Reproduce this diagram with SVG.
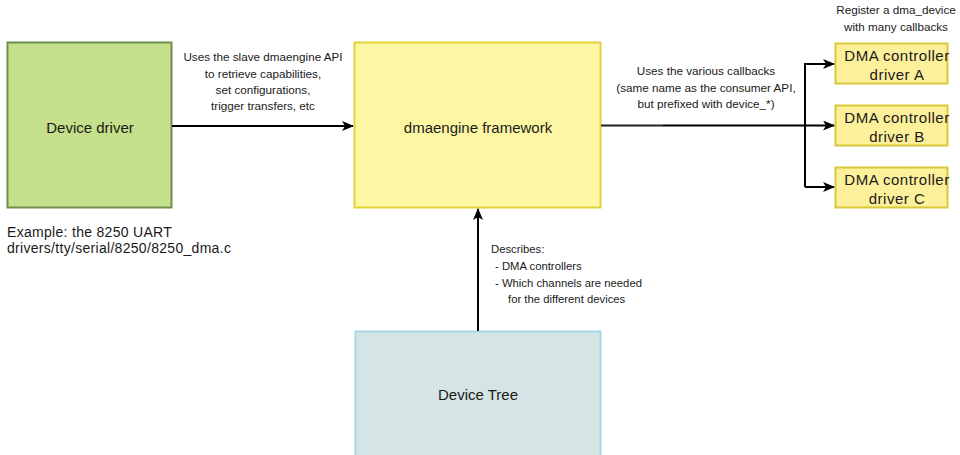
<svg xmlns="http://www.w3.org/2000/svg" width="960" height="455" viewBox="0 0 960 455">
<defs>
<style>
text{font-family:"Liberation Sans",Arial,sans-serif;fill:#1a1a1a}
.lbl{font-size:11.7px;text-anchor:middle}
.ann{font-size:11.3px}
.node{font-size:15px;text-anchor:middle}
.dma{font-size:15px;text-anchor:middle;letter-spacing:0.5px}
.ex{font-size:14px;letter-spacing:0.3px}
.edge{stroke:#000;stroke-width:2;fill:none}
</style>
<marker id="ah" viewBox="0 0 12 10" refX="11" refY="5" markerWidth="12" markerHeight="10" markerUnits="userSpaceOnUse" orient="auto">
<path d="M0,0 L12,5 L0,10 L3,5 Z" fill="#000"/>
</marker>
</defs>
<rect width="960" height="455" fill="#fff"/>
<g id="device-driver">
<rect x="7.5" y="42.5" width="164" height="165" fill="#c5e08a" stroke="#6f8f4f" stroke-width="2"/>
<text class="node" x="90" y="133">Device driver</text>
</g>
<g id="dmaengine">
<rect x="354.5" y="42.5" width="246" height="165" fill="#fdf6a2" stroke="#e2d23a" stroke-width="2"/>
<text class="node" x="478" y="133">dmaengine framework</text>
</g>
<g id="device-tree">
<rect x="355.5" y="331.5" width="245" height="130" fill="#d5e4e4" stroke="#a9d6e6" stroke-width="2"/>
<text class="node" x="478" y="400">Device Tree</text>
</g>
<g id="dma-a">
<rect x="835.5" y="43.5" width="112" height="40" fill="#fdf09a" stroke="#d9c93a" stroke-width="2"/>
<text class="dma" x="897" y="61">DMA controller</text>
<text class="dma" x="897" y="80">driver A</text>
</g>
<g id="dma-b">
<rect x="835.5" y="105.5" width="112" height="40" fill="#fdf09a" stroke="#d9c93a" stroke-width="2"/>
<text class="dma" x="897" y="123">DMA controller</text>
<text class="dma" x="897" y="142">driver B</text>
</g>
<g id="dma-c">
<rect x="835.5" y="167.5" width="112" height="40" fill="#fdf09a" stroke="#d9c93a" stroke-width="2"/>
<text class="dma" x="897" y="185">DMA controller</text>
<text class="dma" x="897" y="204">driver C</text>
</g>
<g id="connectors">
<path class="edge" d="M172,126 H353" marker-end="url(#ah)"/>
<path d="M601,125.5 H663" stroke="#222" stroke-width="2" fill="none"/>
<path class="edge" d="M663,125.5 H834" stroke-width="2.5" marker-end="url(#ah)"/>
<path class="edge" d="M805,187 V64 H834" marker-end="url(#ah)"/>
<path class="edge" d="M805,187 H834" marker-end="url(#ah)"/>
<path class="edge" d="M478,331 V209" marker-end="url(#ah)"/>
</g>
<g id="labels">
<text class="lbl" x="263" y="61">Uses the slave dmaengine API</text>
<text class="lbl" x="263" y="78">to retrieve capabilities,</text>
<text class="lbl" x="263" y="94">set configurations,</text>
<text class="lbl" x="263" y="110">trigger transfers, etc</text>
<text class="lbl" x="706" y="75">Uses the various callbacks</text>
<text class="lbl" x="706" y="92">(same name as the consumer API,</text>
<text class="lbl" x="706" y="108">but prefixed with device_*)</text>
<text class="lbl" x="896" y="14">Register a dma_device</text>
<text class="lbl" x="896" y="31">with many callbacks</text>
<text class="ann" x="491" y="253">Describes:</text>
<text class="ann" x="495" y="270">- DMA controllers</text>
<text class="ann" x="495" y="287">- Which channels are needed</text>
<text class="ann" x="508" y="303">for the different devices</text>
<text class="ex" x="7" y="237">Example: the 8250 UART</text>
<text class="ex" x="7" y="253">drivers/tty/serial/8250/8250_dma.c</text>
</g>
</svg>
